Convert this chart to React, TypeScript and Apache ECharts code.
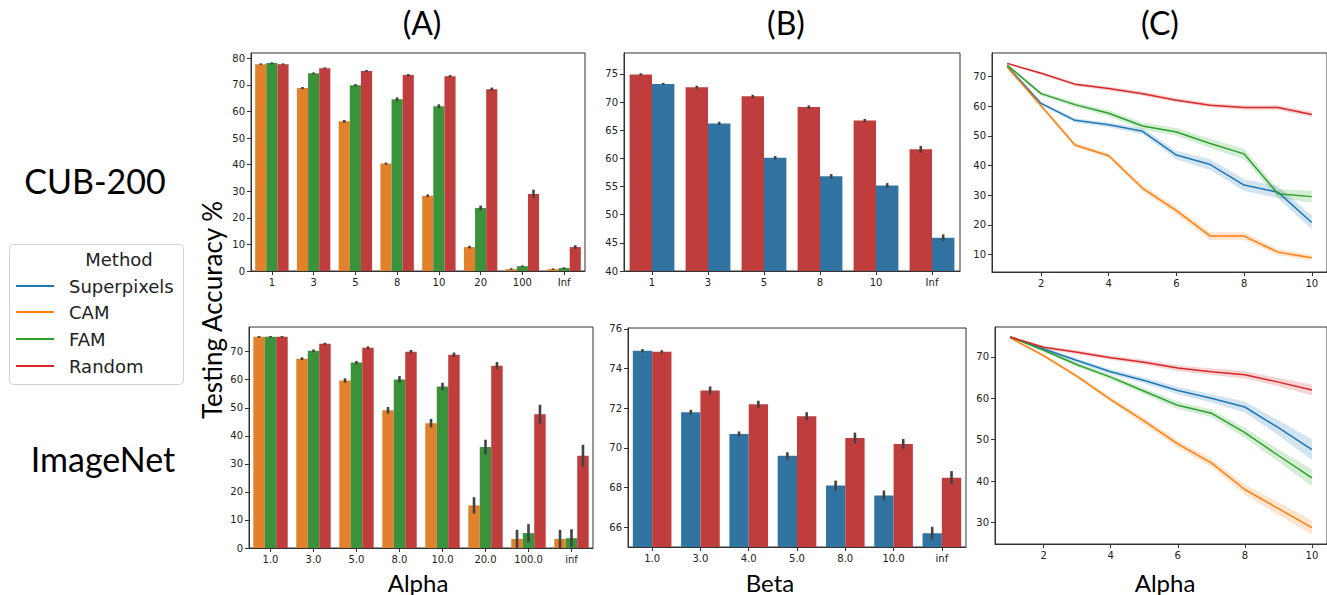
import React, { useEffect, useRef } from "react";
import * as echarts from "echarts";

// ---------- Data ----------
// Panel (A), CUB-200
const alphaCatsCub = ["1", "3", "5", "8", "10", "20", "100", "Inf"];
const cubA_CAM = [77.8, 68.8, 56.3, 40.4, 28.3, 9.0, 0.7, 0.7];
const cubA_FAM = [78.2, 74.4, 69.9, 64.6, 62.0, 23.7, 1.8, 1.1];
const cubA_Random = [77.8, 76.3, 75.2, 73.7, 73.3, 68.4, 29.0, 9.0];
const cubA_CAM_err = [0.3, 0.4, 0.5, 0.4, 0.5, 0.5, 0.3, 0.3];
const cubA_FAM_err = [0.3, 0.3, 0.4, 0.7, 0.7, 0.9, 0.3, 0.3];
const cubA_Random_err = [0.3, 0.3, 0.4, 0.4, 0.4, 0.6, 1.6, 0.7];

// Panel (B), CUB-200
const betaCatsCub = ["1", "3", "5", "8", "10", "Inf"];
const cubB_Random = [74.9, 72.6, 71.0, 69.1, 66.7, 61.6];
const cubB_Superpixels = [73.2, 66.2, 60.1, 56.8, 55.2, 45.9];
const cubB_Random_err = [0.2, 0.3, 0.3, 0.3, 0.3, 0.6];
const cubB_Superpixels_err = [0.2, 0.3, 0.3, 0.4, 0.4, 0.6];

// Panel (C), CUB-200
const alphaSteps = [1, 2, 3, 4, 5, 6, 7, 8, 9, 10];
const cubC_Superpixels = [73.4, 60.9, 55.2, 53.7, 51.5, 43.5, 40.3, 33.4, 31.0, 20.8];
const cubC_CAM = [73.2, 60.1, 46.9, 43.3, 32.3, 24.8, 16.2, 16.2, 10.8, 8.9];
const cubC_FAM = [73.8, 64.2, 60.5, 57.6, 53.3, 51.3, 47.4, 43.9, 30.5, 29.5];
const cubC_Random = [74.4, 71.1, 67.4, 65.9, 64.2, 62.0, 60.3, 59.5, 59.5, 57.2];
const cubC_Superpixels_ci = [0.5, 0.6, 0.7, 0.8, 1.0, 1.5, 1.8, 2.0, 2.0, 2.3];
const cubC_CAM_ci = [0.5, 0.6, 0.8, 0.8, 1.0, 1.2, 1.3, 1.2, 1.0, 1.0];
const cubC_FAM_ci = [0.5, 0.6, 0.8, 1.0, 1.2, 1.3, 1.5, 1.8, 1.5, 2.0];
const cubC_Random_ci = [0.3, 0.5, 0.6, 0.6, 0.7, 0.7, 0.7, 0.8, 0.8, 0.9];

// Panel (A), ImageNet
const alphaCatsImg = ["1.0", "3.0", "5.0", "8.0", "10.0", "20.0", "100.0", "inf"];
const imgA_CAM = [75.3, 67.5, 59.7, 49.1, 44.5, 15.2, 3.2, 3.2];
const imgA_FAM = [75.3, 70.3, 66.1, 60.1, 57.6, 36.0, 5.3, 3.5];
const imgA_Random = [75.3, 72.8, 71.4, 70.0, 68.9, 65.0, 47.7, 32.9];
const imgA_CAM_err = [0.3, 0.5, 0.8, 1.2, 1.5, 2.9, 3.3, 3.3];
const imgA_FAM_err = [0.3, 0.5, 0.6, 1.2, 1.3, 2.6, 3.2, 3.2];
const imgA_Random_err = [0.3, 0.4, 0.5, 0.6, 0.8, 1.3, 3.4, 3.9];

// Panel (B), ImageNet
const betaCatsImg = ["1.0", "3.0", "4.0", "5.0", "8.0", "10.0", "inf"];
const imgB_Superpixels = [74.9, 71.8, 70.7, 69.6, 68.1, 67.6, 65.7];
const imgB_Random = [74.85, 72.9, 72.2, 71.6, 70.5, 70.2, 68.5];
const imgB_Superpixels_err = [0.08, 0.12, 0.13, 0.18, 0.25, 0.25, 0.32];
const imgB_Random_err = [0.08, 0.2, 0.18, 0.2, 0.27, 0.25, 0.33];

// Panel (C), ImageNet
const imgC_Superpixels = [74.8, 71.9, 69.1, 66.4, 64.3, 61.9, 60.0, 57.9, 52.9, 47.6];
const imgC_CAM = [74.6, 70.3, 65.3, 59.7, 54.5, 49.0, 44.4, 38.0, 33.4, 28.8];
const imgC_FAM = [74.8, 71.6, 68.1, 65.1, 61.7, 58.3, 56.4, 51.7, 46.2, 40.8];
const imgC_Random = [74.8, 72.3, 71.1, 69.8, 68.7, 67.3, 66.4, 65.7, 63.9, 62.0];
const imgC_Superpixels_ci = [0.2, 0.4, 0.5, 0.6, 0.7, 0.9, 1.0, 1.3, 1.8, 2.5];
const imgC_CAM_ci = [0.2, 0.4, 0.5, 0.6, 0.8, 0.9, 1.0, 1.2, 1.5, 1.8];
const imgC_FAM_ci = [0.2, 0.4, 0.5, 0.6, 0.7, 0.9, 0.9, 1.2, 1.5, 2.0];
const imgC_Random_ci = [0.2, 0.4, 0.5, 0.5, 0.6, 0.7, 0.8, 0.9, 1.0, 1.3];

// Tick labels
const ticksA1 = [0, 10, 20, 30, 40, 50, 60, 70, 80];
const ticksB1 = [40, 45, 50, 55, 60, 65, 70, 75];
const ticksC1 = [10, 20, 30, 40, 50, 60, 70];
const ticksA2 = [0, 10, 20, 30, 40, 50, 60, 70];
const ticksB2 = [66, 68, 70, 72, 74, 76];
const ticksC2 = [30, 40, 50, 60, 70];
const ticksCx = [2, 4, 6, 8, 10];

const methods = ["Superpixels", "CAM", "FAM", "Random"];

// ---------- Styles ----------
const BAR = { Superpixels: "#3274a1", CAM: "#e1812c", FAM: "#3a923a", Random: "#c03d3e" };
const LINE = { Superpixels: "#1f77b4", CAM: "#ff7f0e", FAM: "#2ca02c", Random: "#d62728" };
const BAND = {
  Superpixels: "rgba(31,119,180,0.2)",
  CAM: "rgba(255,127,14,0.2)",
  FAM: "rgba(44,160,44,0.2)",
  Random: "rgba(214,39,40,0.2)",
};
const TICKFONT = "DejaVu Sans";
const LABELFONT = "Lato";
const SPINE = "#333";

const tickLabel = { color: "#222", fontFamily: TICKFONT, fontSize: 10, margin: 6 };

function catAxis(k: number, data: string[]) {
  return {
    type: "category",
    gridIndex: k,
    data,
    axisLine: { show: true, lineStyle: { color: SPINE, width: 1 } },
    axisTick: { show: true, alignWithLabel: true, length: 4, lineStyle: { color: SPINE } },
    axisLabel: { ...tickLabel },
    splitLine: { show: false },
  };
}

function valAxisY(k: number, min: number, max: number, ticks: number[]) {
  return {
    type: "value",
    gridIndex: k,
    min,
    max,
    axisLine: { show: true, lineStyle: { color: SPINE, width: 1 } },
    axisTick: { show: true, length: 4, lineStyle: { color: SPINE }, customValues: ticks },
    axisLabel: { ...tickLabel, customValues: ticks },
    splitLine: { show: false },
  };
}

function valAxisX(k: number, min: number, max: number, ticks: number[]) {
  return {
    type: "value",
    gridIndex: k,
    min,
    max,
    axisLine: { show: true, lineStyle: { color: SPINE, width: 1 } },
    axisTick: { show: true, length: 4, lineStyle: { color: SPINE }, customValues: ticks },
    axisLabel: { ...tickLabel, customValues: ticks },
    splitLine: { show: false },
  };
}

function barSeries(k: number, name: string, values: number[], color: string) {
  return {
    type: "bar",
    name,
    xAxisIndex: k,
    yAxisIndex: k,
    data: values,
    itemStyle: { color },
    barGap: "0%",
    barCategoryGap: "20%",
    clip: true,
    silent: true,
  };
}

function errSeries(k: number, values: number[], errs: number[], hue: number, nHue: number) {
  return {
    type: "custom",
    xAxisIndex: k,
    yAxisIndex: k,
    data: values.map((v, i) => [i, v, errs[i]]),
    encode: { x: 0, y: 1 },
    z: 5,
    silent: true,
    clip: true,
    renderItem: (_params: any, api: any) => {
      const i = api.value(0);
      const v = api.value(1);
      const e = api.value(2);
      const bw = api.size([1, 0], [i, v])[0];
      const off = (hue - (nHue - 1) / 2) * (0.8 * bw) / nHue;
      const p1 = api.coord([i, v - e]);
      const p2 = api.coord([i, v + e]);
      return {
        type: "line",
        shape: { x1: p1[0] + off, y1: p1[1], x2: p2[0] + off, y2: p2[1] },
        style: { stroke: "#424242", lineWidth: 2.6 },
      };
    },
  };
}

function bandSeries(k: number, xs: number[], ys: number[], hw: number[], fill: string) {
  return {
    type: "custom",
    xAxisIndex: k,
    yAxisIndex: k,
    data: [[xs[0], ys[0]]],
    encode: { x: 0, y: 1 },
    silent: true,
    clip: true,
    z: 1,
    renderItem: (_params: any, api: any) => {
      const up = xs.map((x, i) => api.coord([x, ys[i] + hw[i]]));
      const lo = xs.map((x, i) => api.coord([x, ys[i] - hw[i]])).reverse();
      return { type: "polygon", shape: { points: up.concat(lo) }, style: { fill } };
    },
  };
}

function lineSeries(k: number, name: string, xs: number[], ys: number[], color: string) {
  return {
    type: "line",
    name,
    xAxisIndex: k,
    yAxisIndex: k,
    data: xs.map((x, i) => [x, ys[i]]),
    symbol: "none",
    showSymbol: false,
    lineStyle: { color, width: 1.5 },
    itemStyle: { color },
    z: 3,
    silent: true,
  };
}

function txt(text: string, x: number, y: number, size: number, extra: any = {}) {
  return {
    type: "text",
    x,
    y,
    silent: true,
    ...extra,
    style: {
      text,
      fontFamily: LABELFONT,
      fontSize: size,
      fill: "#000",
      align: "center",
      verticalAlign: "middle",
    },
  };
}

function buildOption() {
  const gridBase = { show: true, borderColor: SPINE, borderWidth: 1, containLabel: false };
  const grid = [
    { ...gridBase, left: 251, top: 53, width: 334, height: 218 },
    { ...gridBase, left: 624, top: 53, width: 336, height: 218 },
    { ...gridBase, left: 992, top: 53, width: 336, height: 219 },
    { ...gridBase, left: 249, top: 327, width: 344, height: 221 },
    { ...gridBase, left: 628, top: 328, width: 338, height: 219 },
    { ...gridBase, left: 995, top: 327, width: 333, height: 217 },
  ];

  const xAxis = [
    catAxis(0, alphaCatsCub),
    catAxis(1, betaCatsCub),
    valAxisX(2, 0.55, 10.45, ticksCx),
    catAxis(3, alphaCatsImg),
    catAxis(4, betaCatsImg),
    valAxisX(5, 0.55, 10.45, ticksCx),
  ];
  const yAxis = [
    valAxisY(0, 0, 82, ticksA1),
    valAxisY(1, 40, 78.7, ticksB1),
    valAxisY(2, 4.1, 77.9, ticksC1),
    valAxisY(3, 0, 78.8, ticksA2),
    valAxisY(4, 65, 76.05, ticksB2),
    valAxisY(5, 24.85, 77.2, ticksC2),
  ];

  const series: any[] = [
    // A1
    barSeries(0, "CAM", cubA_CAM, BAR.CAM),
    barSeries(0, "FAM", cubA_FAM, BAR.FAM),
    barSeries(0, "Random", cubA_Random, BAR.Random),
    errSeries(0, cubA_CAM, cubA_CAM_err, 0, 3),
    errSeries(0, cubA_FAM, cubA_FAM_err, 1, 3),
    errSeries(0, cubA_Random, cubA_Random_err, 2, 3),
    // B1
    barSeries(1, "Random", cubB_Random, BAR.Random),
    barSeries(1, "Superpixels", cubB_Superpixels, BAR.Superpixels),
    errSeries(1, cubB_Random, cubB_Random_err, 0, 2),
    errSeries(1, cubB_Superpixels, cubB_Superpixels_err, 1, 2),
    // C1
    bandSeries(2, alphaSteps, cubC_Superpixels, cubC_Superpixels_ci, BAND.Superpixels),
    bandSeries(2, alphaSteps, cubC_CAM, cubC_CAM_ci, BAND.CAM),
    bandSeries(2, alphaSteps, cubC_FAM, cubC_FAM_ci, BAND.FAM),
    bandSeries(2, alphaSteps, cubC_Random, cubC_Random_ci, BAND.Random),
    lineSeries(2, "Superpixels", alphaSteps, cubC_Superpixels, LINE.Superpixels),
    lineSeries(2, "CAM", alphaSteps, cubC_CAM, LINE.CAM),
    lineSeries(2, "FAM", alphaSteps, cubC_FAM, LINE.FAM),
    lineSeries(2, "Random", alphaSteps, cubC_Random, LINE.Random),
    // A2
    barSeries(3, "CAM", imgA_CAM, BAR.CAM),
    barSeries(3, "FAM", imgA_FAM, BAR.FAM),
    barSeries(3, "Random", imgA_Random, BAR.Random),
    errSeries(3, imgA_CAM, imgA_CAM_err, 0, 3),
    errSeries(3, imgA_FAM, imgA_FAM_err, 1, 3),
    errSeries(3, imgA_Random, imgA_Random_err, 2, 3),
    // B2
    barSeries(4, "Superpixels", imgB_Superpixels, BAR.Superpixels),
    barSeries(4, "Random", imgB_Random, BAR.Random),
    errSeries(4, imgB_Superpixels, imgB_Superpixels_err, 0, 2),
    errSeries(4, imgB_Random, imgB_Random_err, 1, 2),
    // C2
    bandSeries(5, alphaSteps, imgC_Superpixels, imgC_Superpixels_ci, BAND.Superpixels),
    bandSeries(5, alphaSteps, imgC_CAM, imgC_CAM_ci, BAND.CAM),
    bandSeries(5, alphaSteps, imgC_FAM, imgC_FAM_ci, BAND.FAM),
    bandSeries(5, alphaSteps, imgC_Random, imgC_Random_ci, BAND.Random),
    lineSeries(5, "Superpixels", alphaSteps, imgC_Superpixels, LINE.Superpixels),
    lineSeries(5, "CAM", alphaSteps, imgC_CAM, LINE.CAM),
    lineSeries(5, "FAM", alphaSteps, imgC_FAM, LINE.FAM),
    lineSeries(5, "Random", alphaSteps, imgC_Random, LINE.Random),
  ];

  const legendY = [286, 312, 339, 366];
  const legendEls: any[] = [
    {
      type: "rect",
      silent: true,
      shape: { x: 9.5, y: 244.5, width: 174, height: 140, r: 4 },
      style: { fill: "#fff", stroke: "#d0d0d0", lineWidth: 1 },
    },
    {
      type: "text",
      x: 119,
      y: 259,
      silent: true,
      style: { text: "Method", fontFamily: TICKFONT, fontSize: 18, fill: "#222", align: "center", verticalAlign: "middle" },
    },
  ];
  methods.forEach((m, i) => {
    legendEls.push({
      type: "line",
      silent: true,
      shape: { x1: 16, y1: legendY[i], x2: 54, y2: legendY[i] },
      style: { stroke: (LINE as any)[m], lineWidth: 2 },
    });
    legendEls.push({
      type: "text",
      x: 69,
      y: legendY[i],
      silent: true,
      style: { text: m, fontFamily: TICKFONT, fontSize: 18, fill: "#222", align: "left", verticalAlign: "middle" },
    });
  });

  const graphic = [
    txt("(A)", 422, 22, 32),
    txt("(B)", 786, 22, 32),
    txt("(C)", 1160, 22, 32),
    txt("CUB-200", 95, 180, 34),
    txt("ImageNet", 103, 458, 34),
    txt("Testing Accuracy %", 212, 310, 26, { rotation: Math.PI / 2 }),
    txt("Alpha", 418, 582, 24),
    txt("Beta", 770, 582, 24),
    txt("Alpha", 1165, 582, 24),
    ...legendEls,
  ];

  return {
    animation: false,
    backgroundColor: "#fff",
    grid,
    xAxis,
    yAxis,
    series,
    graphic,
  };
}

export default function App() {
  const ref = useRef<HTMLDivElement>(null);
  useEffect(() => {
    if (!ref.current) return;
    const chart = echarts.init(ref.current, undefined, { renderer: "svg" });
    chart.setOption(buildOption() as any);
    return () => chart.dispose();
  }, []);
  return (
    <div
      ref={ref}
      style={{ position: "fixed", left: 0, top: 0, width: 1327, height: 595, background: "#fff" }}
    />
  );
}
